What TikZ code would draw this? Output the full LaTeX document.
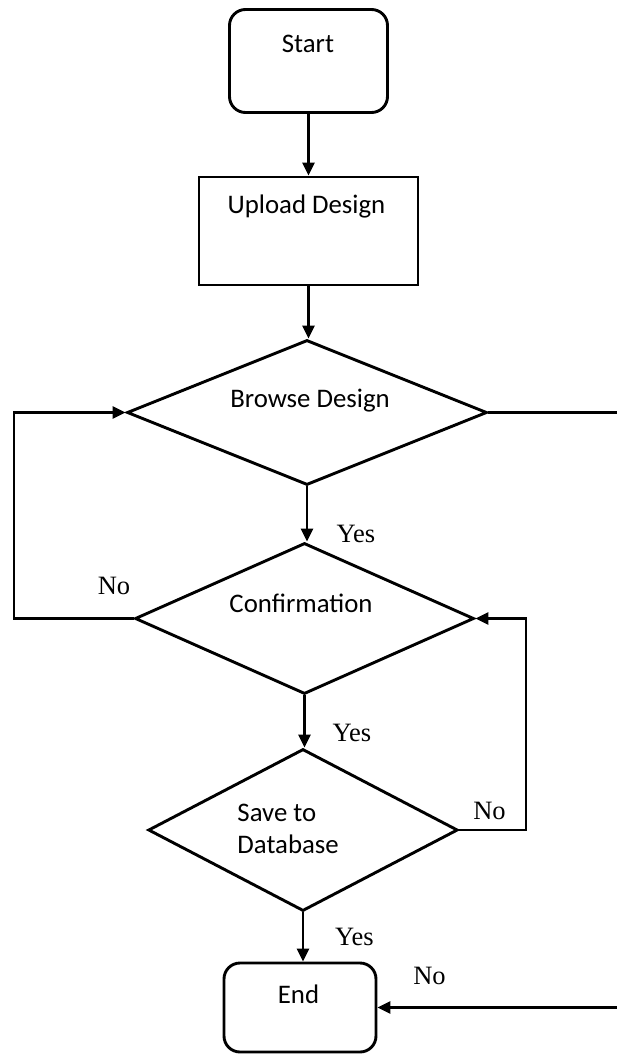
\documentclass[tikz,border=0pt]{standalone}
\usepackage{fontspec}
\setmainfont{Carlito}
\newfontfamily\answerfont{Liberation Serif}
\usetikzlibrary{shapes.geometric,arrows.meta}

\begin{document}
\begin{tikzpicture}[x=1pt,y=-1pt,
  line width=2.9pt,
  terminal/.style={draw,rounded corners=16pt,inner sep=0pt},
  process/.style={draw,inner sep=0pt},
  decision/.style={draw,diamond,inner sep=0pt},
  boxtext/.style={font=\fontsize{26.8}{32}\selectfont,inner sep=0pt},
  answer/.style={font=\answerfont\fontsize{26.5}{31}\selectfont,inner sep=0pt},
  flow/.style={-{Triangle[length=13pt,width=12pt]}}]
  \useasboundingbox (0,0) rectangle (617,1054);
  \clip (0,0) rectangle (617,1054);

  % shapes
  \node[terminal,minimum width=158pt,minimum height=103pt] (start) at (308.5,61) {};
  \node[process,minimum width=219pt,minimum height=108pt] (upload) at (308.5,231) {};
  \node[decision,minimum width=360pt,minimum height=145pt] (browse) at (307,412.5) {};
  \node[decision,minimum width=339pt,minimum height=151pt] (conf) at (304.5,618.5) {};
  \node[decision,minimum width=309.5pt,minimum height=162pt] (save) at (303,830) {};
  \node[terminal,minimum width=152pt,minimum height=89pt] (end) at (300,1007.5) {};

  % texts inside the shapes
  \node[boxtext] (startlbl) at (308,44) {Start};
  \node[boxtext] (uploadlbl) at (306.5,206) {Upload Design};
  \node[boxtext] (browselbl) at (310,401) {Browse Design};
  \node[boxtext] (conflbl) at (301,603) {Confirmation};
  \node[boxtext,align=left,anchor=west] (savelbl) at (236,829) {Save to\\Database};
  \node[boxtext] (endlbl) at (298.5,994) {End};

  % loop helpers
  \coordinate (lloop) at (14,0);
  \coordinate (rloop) at (526,0);
  \coordinate (rout) at (660,0);

  % main flow, kept vertical
  \draw[flow] (start) -- (upload);
  \draw[flow] (upload.south) -- (upload.south |- browse.north);
  \draw[flow] (browse.south) -- (browse.south |- conf.north);
  \draw[flow] (conf.south) -- (conf.south |- save.north);
  \draw[flow] (save.south) -- (save.south |- end.north);

  % back and exit branches
  \draw[flow] (conf.west) -- (conf.west -| lloop) |- (browse.west);
  \draw[flow] (save.east) -- (save.east -| rloop) |- (conf.east);
  \draw[flow] (browse.east) -- (browse.east -| rout) |- (end.east);

  % branch answers
  \node[answer] (yes1) at (356,534) {Yes};
  \node[answer] (no1) at (114,586) {No};
  \node[answer] (yes2) at (352,733) {Yes};
  \node[answer] (no2) at (489.5,811) {No};
  \node[answer] (yes3) at (354.5,937) {Yes};
  \node[answer] (no3) at (429.5,976) {No};
\end{tikzpicture}
\end{document}
